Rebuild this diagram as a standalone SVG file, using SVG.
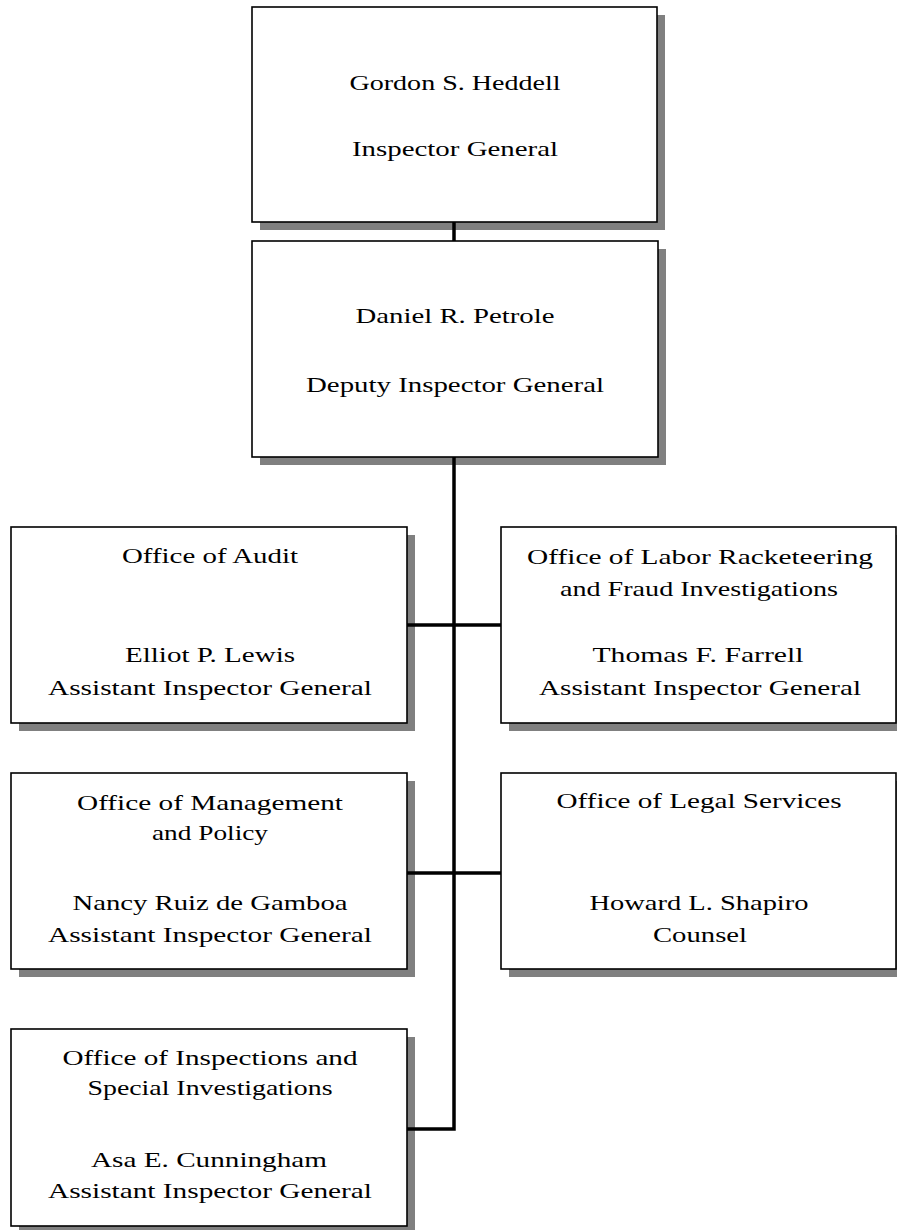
<svg xmlns="http://www.w3.org/2000/svg" width="897" height="1230" viewBox="0 0 897 1230">
<style>
.shadow{fill:#808080;stroke:none}
.box{fill:#ffffff;stroke:#000000;stroke-width:1.6}
.t{font-family:"Liberation Serif","Times New Roman",serif;font-size:22px;fill:#000000;text-anchor:middle}
.conn{stroke:#000000;stroke-width:3.5;fill:none;stroke-linecap:butt;stroke-linejoin:miter}
</style>
<rect x="0" y="0" width="897" height="1230" fill="#ffffff"/>
<g id="node-ig">
<rect class="shadow" x="260" y="15" width="405" height="215"/>
<rect class="box" x="252" y="7" width="405" height="215"/>
<text class="t" x="455" y="90" textLength="211" lengthAdjust="spacingAndGlyphs">Gordon S. Heddell</text>
<text class="t" x="455" y="156" textLength="206" lengthAdjust="spacingAndGlyphs">Inspector General</text>
</g>
<g id="node-dig">
<rect class="shadow" x="260" y="249" width="406" height="216"/>
<rect class="box" x="252" y="241" width="406" height="216"/>
<text class="t" x="455" y="323" textLength="199" lengthAdjust="spacingAndGlyphs">Daniel R. Petrole</text>
<text class="t" x="455" y="392" textLength="298" lengthAdjust="spacingAndGlyphs">Deputy Inspector General</text>
</g>
<g id="node-audit">
<rect class="shadow" x="19" y="535" width="396" height="196"/>
<rect class="box" x="11" y="527" width="396" height="196"/>
<text class="t" x="210" y="563" textLength="176" lengthAdjust="spacingAndGlyphs">Office of Audit</text>
<text class="t" x="210" y="662" textLength="170" lengthAdjust="spacingAndGlyphs">Elliot P. Lewis</text>
<text class="t" x="210" y="695" textLength="324" lengthAdjust="spacingAndGlyphs">Assistant Inspector General</text>
</g>
<g id="node-labor">
<rect class="shadow" x="509" y="535" width="395" height="196"/>
<rect class="box" x="501" y="527" width="395" height="196"/>
<text class="t" x="700" y="564" textLength="346" lengthAdjust="spacingAndGlyphs">Office of Labor Racketeering</text>
<text class="t" x="699" y="596" textLength="278" lengthAdjust="spacingAndGlyphs">and Fraud Investigations</text>
<text class="t" x="698" y="662" textLength="211" lengthAdjust="spacingAndGlyphs">Thomas F. Farrell</text>
<text class="t" x="700" y="695" textLength="322" lengthAdjust="spacingAndGlyphs">Assistant Inspector General</text>
</g>
<g id="node-mgmt">
<rect class="shadow" x="19" y="781" width="396" height="196"/>
<rect class="box" x="11" y="773" width="396" height="196"/>
<text class="t" x="210" y="810" textLength="266" lengthAdjust="spacingAndGlyphs">Office of Management</text>
<text class="t" x="210" y="840" textLength="116" lengthAdjust="spacingAndGlyphs">and Policy</text>
<text class="t" x="210" y="910" textLength="275" lengthAdjust="spacingAndGlyphs">Nancy Ruiz de Gamboa</text>
<text class="t" x="210" y="942" textLength="324" lengthAdjust="spacingAndGlyphs">Assistant Inspector General</text>
</g>
<g id="node-legal">
<rect class="shadow" x="509" y="781" width="395" height="196"/>
<rect class="box" x="501" y="773" width="395" height="196"/>
<text class="t" x="699" y="808" textLength="285" lengthAdjust="spacingAndGlyphs">Office of Legal Services</text>
<text class="t" x="699" y="910" textLength="219" lengthAdjust="spacingAndGlyphs">Howard L. Shapiro</text>
<text class="t" x="700" y="942" textLength="94" lengthAdjust="spacingAndGlyphs">Counsel</text>
</g>
<g id="node-inspections">
<rect class="shadow" x="19" y="1037" width="396" height="197"/>
<rect class="box" x="11" y="1029" width="396" height="197"/>
<text class="t" x="210" y="1065" textLength="295" lengthAdjust="spacingAndGlyphs">Office of Inspections and</text>
<text class="t" x="210" y="1095" textLength="245" lengthAdjust="spacingAndGlyphs">Special Investigations</text>
<text class="t" x="209" y="1167" textLength="236" lengthAdjust="spacingAndGlyphs">Asa E. Cunningham</text>
<text class="t" x="210" y="1198" textLength="324" lengthAdjust="spacingAndGlyphs">Assistant Inspector General</text>
</g>
<g id="connectors">
<line class="conn" x1="454" y1="222" x2="454" y2="241"/>
<polyline class="conn" points="454,457 454,1129 407,1129"/>
<line class="conn" x1="407" y1="625" x2="501" y2="625"/>
<line class="conn" x1="407" y1="873" x2="501" y2="873"/>
</g>
</svg>
